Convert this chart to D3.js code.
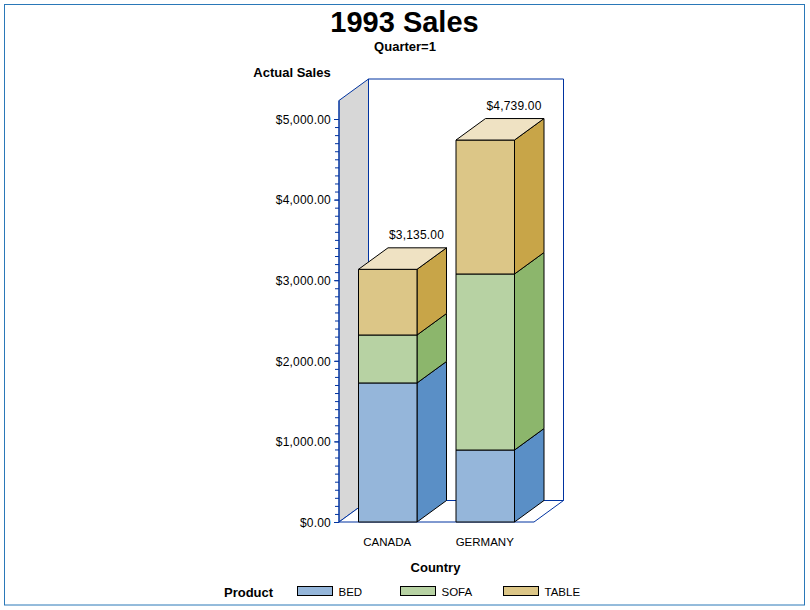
<!DOCTYPE html>
<meta charset="utf-8">
<style>
html, body { margin: 0; padding: 0; background: #fff; }
text { font-family: "Liberation Sans", Arial, sans-serif; fill: #000; }
</style>
<script src="https://d3js.org/d3.v7.min.js"></script>
<body>
<div id="chart"></div>
</body>
<script>
// values
var countries = ["CANADA", "GERMANY"];
var products = ["BED", "SOFA", "TABLE"];
var bed = [1725, 893];
var sofa = [595, 2184];
var table = [815, 1662];
var totalLabels = ["$3,135.00", "$4,739.00"];
var yTicks = [0, 1000, 2000, 3000, 4000, 5000];
var yMinorTicks = d3.range(0, 5001, 100);

var frontColors = ["#95b6da", "#b7d2a3", "#dcc687"];
var sideColors = ["#5a8fc6", "#8cb66c", "#c8a548"];
var topColor = "#efe2c3";
var axisBlue = "#0033a0";

var width = 810, height = 610;
var depthX = 29.5, depthY = -21.5;

var svg = d3.select("#chart").append("svg")
    .attr("width", width)
    .attr("height", height)
    .style("display", "block");

// outer frame
svg.append("rect")
    .attr("x", 4.5).attr("y", 4.5)
    .attr("width", 800).attr("height", 600.5)
    .attr("fill", "#fff")
    .attr("stroke", "#2a78b8");

var x = d3.scaleBand().domain(countries).range([339, 534]).paddingInner(0.4).paddingOuter(0.2);
var y = d3.scaleLinear().domain([0, 5000]).range([522, 119]);

var bottom = y(0), axisTop = 100.5, left = x.range()[0], right = x.range()[1];

function poly(points) {
  return "M" + points.map(function(p) { return p.join(","); }).join("L") + "Z";
}

// walls and floor
svg.append("path")
    .attr("d", poly([[left, bottom], [left, axisTop], [left + depthX, axisTop + depthY], [left + depthX, bottom + depthY]]))
    .attr("fill", "#d7d7d7")
    .attr("stroke", axisBlue);
svg.append("path")
    .attr("d", poly([[left, bottom], [left + depthX, bottom + depthY], [right + depthX, bottom + depthY], [right, bottom]]))
    .attr("fill", "#fff")
    .attr("stroke", axisBlue);
svg.append("path")
    .attr("d", poly([[left + depthX, axisTop + depthY], [right + depthX, axisTop + depthY], [right + depthX, bottom + depthY], [left + depthX, bottom + depthY]]))
    .attr("fill", "#fff")
    .attr("stroke", axisBlue);

// y axis
var yAxisMinor = d3.axisLeft(y).tickValues(yMinorTicks).tickSize(4).tickFormat("");
svg.append("g")
    .attr("transform", "translate(" + left + ",0)")
    .call(yAxisMinor)
    .call(function(g) {
      g.select(".domain").remove();
      g.selectAll("line").attr("stroke", axisBlue);
    });
var yAxis = d3.axisLeft(y).tickValues(yTicks).tickSize(5).tickPadding(3)
    .tickFormat(function(d) { return "$" + d3.format(",.2f")(d); });
svg.append("g")
    .attr("transform", "translate(" + left + ",0)")
    .call(yAxis)
    .call(function(g) {
      g.select(".domain").remove();
      g.selectAll("line").attr("stroke", axisBlue);
      g.selectAll("text").attr("font-size", 12).attr("fill", "#000")
          .attr("letter-spacing", 0.2).attr("dy", "4.3px");
    })
    .attr("font-family", null);
svg.append("line")
    .attr("x1", left).attr("x2", left)
    .attr("y1", axisTop).attr("y2", bottom)
    .attr("stroke", axisBlue);

// stacked bars
var stacked = [bed, sofa, table];
countries.forEach(function(country, i) {
  var x0 = x(country), x1 = x0 + x.bandwidth();
  var base = 0;
  stacked.forEach(function(series, s) {
    var yb = y(base), yt = y(base + series[i]);
    base += series[i];
    var g = svg.append("g").attr("stroke", "#000").attr("stroke-linejoin", "round");
    g.append("path")
        .attr("d", poly([[x1, yb], [x1, yt], [x1 + depthX, yt + depthY], [x1 + depthX, yb + depthY]]))
        .attr("fill", sideColors[s]);
    g.append("path")
        .attr("d", poly([[x0, yb], [x0, yt], [x1, yt], [x1, yb]]))
        .attr("fill", frontColors[s]);
    if (s === stacked.length - 1) {
      g.append("path")
          .attr("d", poly([[x0, yt], [x0 + depthX, yt + depthY], [x1 + depthX, yt + depthY], [x1, yt]]))
          .attr("fill", topColor);
    }
  });
  svg.append("text")
      .attr("x", x1 - 0.5)
      .attr("y", y(base) + depthY - 9)
      .attr("text-anchor", "middle")
      .attr("font-size", 12)
      .attr("letter-spacing", 0.2)
      .text(totalLabels[i]);
  svg.append("text")
      .attr("x", x0 + x.bandwidth() / 2 - 0.5)
      .attr("y", 546)
      .attr("text-anchor", "middle")
      .attr("font-size", 11.5)
      .text(country);
});

// titles
svg.append("text").attr("x", 404.5).attr("y", 32).attr("text-anchor", "middle")
    .attr("font-size", 29).attr("font-weight", "bold").text("1993 Sales");
svg.append("text").attr("x", 405).attr("y", 51).attr("text-anchor", "middle")
    .attr("font-size", 13).attr("font-weight", "bold").text("Quarter=1");
svg.append("text").attr("x", 292).attr("y", 77).attr("text-anchor", "middle")
    .attr("font-size", 13).attr("font-weight", "bold").text("Actual Sales");
svg.append("text").attr("x", 435.5).attr("y", 572).attr("text-anchor", "middle")
    .attr("font-size", 13).attr("font-weight", "bold").text("Country");

// legend
var legendX = d3.scaleOrdinal().domain(products).range([297.5, 400.5, 503.5]);
svg.append("text").attr("x", 224).attr("y", 597)
    .attr("font-size", 13).attr("font-weight", "bold").text("Product");
products.forEach(function(p, i) {
  svg.append("rect")
      .attr("x", legendX(p)).attr("y", 586.5)
      .attr("width", 35).attr("height", 9)
      .attr("fill", frontColors[i])
      .attr("stroke", "#000");
  svg.append("text")
      .attr("x", legendX(p) + 41).attr("y", 596)
      .attr("font-size", 11.5)
      .text(p);
});
</script>
